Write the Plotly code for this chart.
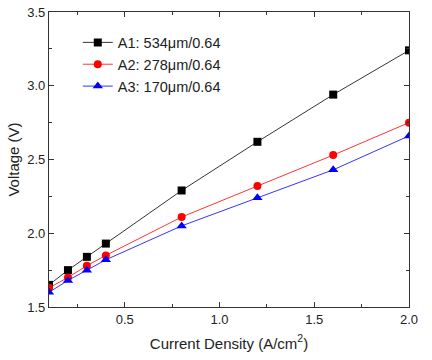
import plotly.graph_objects as go

current = [0.1, 0.2, 0.3, 0.4, 0.8, 1.2, 1.6, 2.0]
a1 = [1.65, 1.75, 1.84, 1.93, 2.29, 2.62, 2.94, 3.24]
a2 = [1.63, 1.70, 1.78, 1.85, 2.11, 2.32, 2.53, 2.75]
a3 = [1.60, 1.68, 1.75, 1.82, 2.05, 2.24, 2.43, 2.66]
names = ["A1: 534μm/0.64", "A2: 278μm/0.64", "A3: 170μm/0.64"]
colors = ["#000000", "#ff0000", "#0000ff"]
symbols = ["square", "circle", "triangle-up"]
sizes = [8, 8, 9]

fig = go.Figure()
for ys, n, c, s, sz in zip([a1, a2, a3], names, colors, symbols, sizes):
    fig.add_trace(go.Scatter(x=current, y=ys, name=n, mode="lines+markers",
                             line=dict(color=c, width=0.8),
                             marker=dict(symbol=s, size=sz, color=c)))

axis_common = dict(showline=True, linecolor="#333", linewidth=1.2, mirror="ticks",
                   ticks="inside", ticklen=5, tickcolor="#333", showgrid=False,
                   zeroline=False, automargin=False, ticklabeloverflow="allow",
                   tickfont=dict(size=13, color="#222"))
fig.update_xaxes(range=[0.1, 2.0], tick0=0, dtick=0.5, tickformat=".1f",
                 title=dict(text="Current Density (A/cm<sup>2</sup>)", font=dict(size=15, color="#222"), standoff=12),
                 minor=dict(ticks="inside", ticklen=3, tick0=0, dtick=0.25, tickcolor="#333"),
                 **axis_common)
fig.update_yaxes(range=[1.5, 3.5], tick0=1.5, dtick=0.5, tickformat=".1f",
                 title=dict(text="Voltage (V)", font=dict(size=15, color="#222"), standoff=3),
                 minor=dict(ticks="inside", ticklen=3, tick0=1.5, dtick=0.25, tickcolor="#333"),
                 **axis_common)
fig.update_layout(width=432, height=360, margin=dict(l=49, r=23, t=12, b=53),
                  paper_bgcolor="white", plot_bgcolor="white",
                  font=dict(family="Liberation Sans, Arial, sans-serif"),
                  legend=dict(x=0.08, y=0.951, xanchor="left", yanchor="top",
                              bgcolor="rgba(0,0,0,0)", font=dict(size=14.5, color="#222"),
                              tracegroupgap=0, itemwidth=30))
fig.write_html("out.html", config={"displayModeBar": False},
               post_script="document.body.style.margin='0';document.body.style.overflow='hidden';")
